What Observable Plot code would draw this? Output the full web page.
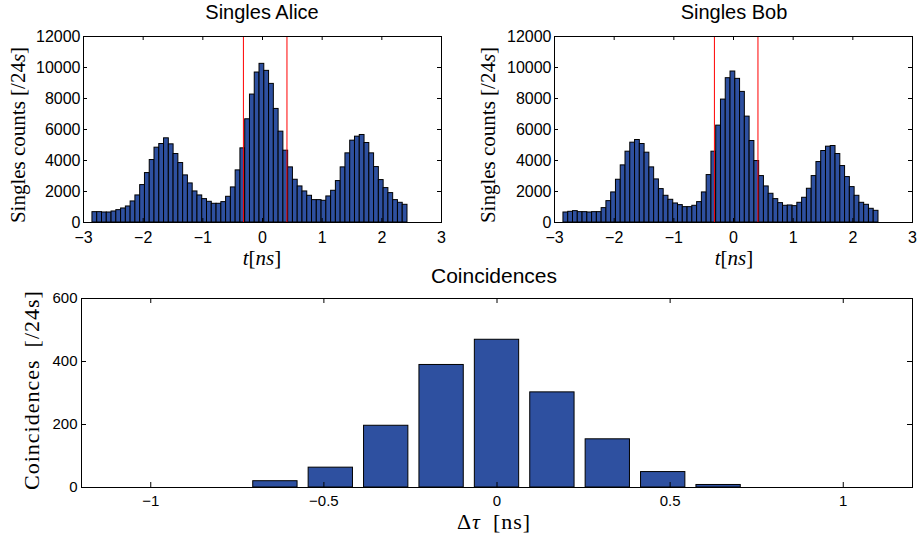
<!DOCTYPE html>
<html><head><meta charset="utf-8">
<script src="https://cdn.jsdelivr.net/npm/d3@7"></script>
<script src="https://cdn.jsdelivr.net/npm/@observablehq/plot@0.6"></script>
<style>
body{margin:0;background:#fff;}
#wrap{position:relative;width:917px;height:540px;overflow:hidden;background:#fff;}
.p{position:absolute;}
.title{position:absolute;font-family:"Liberation Sans",Arial,sans-serif;font-size:20px;transform:translateX(-50%);white-space:nowrap;color:#000;}
.lab{position:absolute;font-family:"Liberation Serif","DejaVu Serif",serif;font-size:21px;line-height:1;white-space:nowrap;transform:translate(-50%,-50%);color:#000;}
.rot{transform:translate(-50%,-50%) rotate(-90deg);}
.wide{font-size:22px;letter-spacing:1px;}
</style></head>
<body><div id="wrap">
<div class="title" style="left:262px;top:1px">Singles Alice</div>
<div class="title" style="left:734px;top:1px">Singles Bob</div>
<div class="title" style="left:494px;top:264px;font-size:21px">Coincidences</div>
<div class="lab rot" style="left:18px;top:135px">Singles counts [/24<i>s</i>]</div>
<div class="lab rot" style="left:488px;top:135px">Singles counts [/24<i>s</i>]</div>
<div class="lab" style="left:262px;top:258px"><i>t</i>[<i>ns</i>]</div>
<div class="lab" style="left:734px;top:258px"><i>t</i>[<i>ns</i>]</div>
<div class="lab rot wide" style="left:32px;top:390px">Coincidences&ensp;[/24s]</div>
<div class="lab wide" style="left:494px;top:522px">Δ<i>τ</i>&ensp;[ns]</div>
<div id="tl" class="p" style="left:-1px;top:0"></div>
<div id="tr" class="p" style="left:470px;top:0"></div>
<div id="bt" class="p" style="left:0;top:285px"></div>
</div>
<script>
// bin centres (ns)
const timeNs = [-2.81,-2.73,-2.65,-2.57,-2.49,-2.41,-2.33,-2.25,-2.17,-2.09,-2.01,-1.93,-1.85,-1.77,-1.69,-1.61,-1.53,-1.45,-1.37,-1.29,-1.21,-1.13,-1.05,-0.97,-0.89,-0.81,-0.73,-0.65,-0.57,-0.49,-0.41,-0.33,-0.25,-0.17,-0.09,-0.01,0.07,0.15,0.23,0.31,0.39,0.47,0.55,0.63,0.71,0.79,0.87,0.95,1.03,1.11,1.19,1.27,1.35,1.43,1.51,1.59,1.67,1.75,1.83,1.91,1.99,2.07,2.15,2.23,2.31,2.39];
const binWidthNs = 0.08;
const aliceCounts = [668,668,646,646,711,797,905,1034,1358,1746,2414,3189,4030,4827,5064,5431,5043,4418,3836,3039,2521,2004,1746,1509,1336,1207,1207,1315,1659,2263,3362,4784,6659,8254,9676,10236,9784,8943,7327,5862,4633,3556,2758,2327,2004,1724,1444,1444,1401,1681,2047,2672,3556,4461,5280,5538,5646,5129,4461,3577,2737,2220,1896,1444,1271,1142];
const bobCounts = [646,690,733,668,668,646,668,668,927,1379,1940,2758,3685,4569,5150,5323,5064,4504,3556,2780,2155,1724,1465,1228,1121,991,991,1078,1315,1940,3060,4569,6250,7930,9310,9741,9267,8426,6831,5258,3965,2995,2327,1853,1509,1250,1078,1099,1056,1271,1595,2177,2995,3900,4612,4892,4935,4418,3642,2931,2284,1724,1271,1142,884,754];
const windowEdges = [-0.32, 0.41];
const singlesTicksX = [-3,-2,-1,0,1,2,3];
const singlesTicksY = [0,2000,4000,6000,8000,10000,12000];

const delayNs = [-0.64,-0.48,-0.32,-0.16,0,0.16,0.32,0.48,0.64];
const coincCounts = [20,63,196,389,469,302,153,49,8];
const coincBarWidth = 0.128;
const coincTicksX = [-1,-0.5,0,0.5,1];
const coincTicksY = [0,200,400,600];

const barFill = "#2e50a0";
const fmt = d3.format("");

function singles(counts){
  const data = timeNs.map((t,i)=>({t, c: counts[i]}));
  const W=447,H=252, mt=36, mb=30, ml=84, mr=W-(84+358);
  const ih = H-mt-mb, iw = W-ml-mr;
  return Plot.plot({width:W,height:H,marginTop:mt,marginBottom:mb,marginLeft:ml,marginRight:mr,
    style:{fontFamily:"'Liberation Sans',Arial,sans-serif", fontSize:"16px", background:"transparent", color:"#000"},
    x:{domain:[-3,3]}, y:{domain:[0,12000]},
    marks:[
      Plot.rectY(data,{x1:d=>d.t-binWidthNs/2, x2:d=>d.t+binWidthNs/2, y1:0, y2:"c", fill:barFill, stroke:"#000", strokeWidth:1}),
      Plot.ruleX(windowEdges,{stroke:"#ff0000", strokeWidth:1}),
      Plot.frame({stroke:"#000"}),
      Plot.ruleX(singlesTicksX,{insetTop: ih-4}),
      Plot.ruleX(singlesTicksX,{insetBottom: ih-4}),
      Plot.ruleY(singlesTicksY,{insetRight: iw-4}),
      Plot.ruleY(singlesTicksY,{insetLeft: iw-4}),
      Plot.axisX({ticks:singlesTicksX,tickSize:0,tickPadding:9,tickFormat:fmt,label:null}),
      Plot.axisY({ticks:singlesTicksY,tickSize:0,tickPadding:3,tickFormat:fmt,label:null})
    ]});
}

document.getElementById("tl").append(singles(aliceCounts));
document.getElementById("tr").append(singles(bobCounts));

(function(){
  const data = delayNs.map((t,i)=>({t, c: coincCounts[i]}));
  const W=917,H=255, mt=13, mb=53, ml=81, mr=5;
  const ih = H-mt-mb, iw = W-ml-mr;
  const p = Plot.plot({width:W,height:H,marginTop:mt,marginBottom:mb,marginLeft:ml,marginRight:mr,
    style:{fontFamily:"'Liberation Sans',Arial,sans-serif", fontSize:"15px", background:"transparent", color:"#000"},
    x:{domain:[-1.2,1.2]}, y:{domain:[0,600]},
    marks:[
      Plot.rectY(data,{x1:d=>d.t-coincBarWidth/2, x2:d=>d.t+coincBarWidth/2, y1:0, y2:"c", fill:barFill, stroke:"#000", strokeWidth:1}),
      Plot.frame({stroke:"#000"}),
      Plot.ruleX(coincTicksX,{insetTop: ih-5}),
      Plot.ruleX(coincTicksX,{insetBottom: ih-5}),
      Plot.ruleY(coincTicksY,{insetRight: iw-5}),
      Plot.ruleY(coincTicksY,{insetLeft: iw-5}),
      Plot.axisX({ticks:coincTicksX,tickSize:0,tickPadding:8,tickFormat:fmt,label:null}),
      Plot.axisY({ticks:coincTicksY,tickSize:0,tickPadding:4,tickFormat:fmt,label:null})
    ]});
  document.getElementById("bt").append(p);
})();
</script>
</body></html>
